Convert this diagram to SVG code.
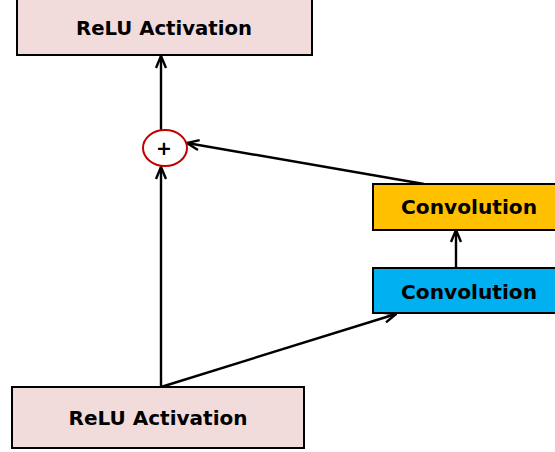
<svg xmlns="http://www.w3.org/2000/svg" width="555" height="452" viewBox="0 0 555 452">
  <style>
    .box { stroke: #000; stroke-width: 2; }
    .relu { fill: #F2DCDB; }
    .conv1 { fill: #00B0F0; }
    .conv2 { fill: #FFC000; }
    .label { font-family: "DejaVu Sans", Verdana, sans-serif; font-weight: bold; font-size: 20px; fill: #000; text-anchor: middle; }
    .edge { stroke: #000; stroke-width: 2.4; fill: none; }
  </style>
  <defs>
    <marker id="arrow" viewBox="0 0 14 12" refX="13" refY="6" markerWidth="14" markerHeight="12" markerUnits="userSpaceOnUse" orient="auto">
      <path d="M1,1 L13,6 L1,11" fill="none" stroke="#000" stroke-width="2.4"/>
    </marker>
  </defs>
  <rect width="555" height="452" fill="#fff"/>

  <g id="edges">
    <line class="edge" x1="161" y1="387" x2="161" y2="167" marker-end="url(#arrow)"/>
    <line class="edge" x1="161" y1="387" x2="396" y2="314" marker-end="url(#arrow)"/>
    <line class="edge" x1="456" y1="268" x2="456" y2="230" marker-end="url(#arrow)"/>
    <line class="edge" x1="424" y1="184" x2="187" y2="143" marker-end="url(#arrow)"/>
    <line class="edge" x1="161" y1="130" x2="161" y2="56" marker-end="url(#arrow)"/>
  </g>

  <g id="relu-top">
    <rect class="box relu" x="17" y="-1" width="295" height="56"/>
    <text class="label" x="164" y="35" textLength="176" lengthAdjust="spacingAndGlyphs">ReLU Activation</text>
  </g>

  <g id="add">
    <ellipse cx="165" cy="148" rx="22" ry="18" fill="#fff" stroke="#C00000" stroke-width="2"/>
    <text class="label" x="164" y="155" style="font-size:19px">+</text>
  </g>

  <g id="conv-2">
    <rect class="box conv2" x="373" y="184" width="190" height="46"/>
    <text class="label" x="469" y="214" textLength="136" lengthAdjust="spacingAndGlyphs">Convolution</text>
  </g>

  <g id="conv-1">
    <rect class="box conv1" x="373" y="268" width="190" height="45"/>
    <text class="label" x="469" y="299" textLength="136" lengthAdjust="spacingAndGlyphs">Convolution</text>
  </g>

  <g id="relu-bottom">
    <rect class="box relu" x="12" y="387" width="292" height="61"/>
    <text class="label" x="158" y="425" textLength="179" lengthAdjust="spacingAndGlyphs">ReLU Activation</text>
  </g>
</svg>
